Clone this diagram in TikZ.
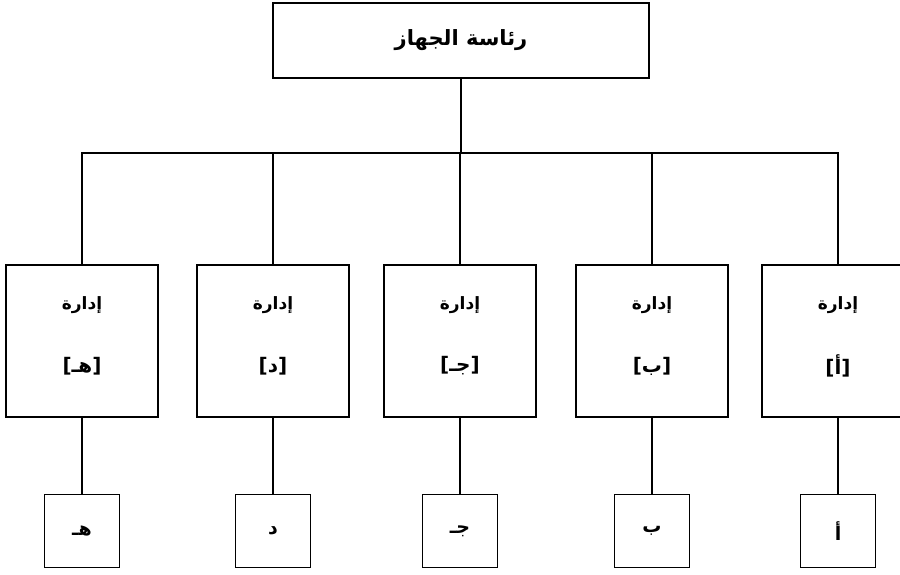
\documentclass[tikz,border=0pt]{standalone}
\usepackage{fontspec}
\newfontfamily\arabicfont[Script=Arabic]{DejaVu Sans}
\newfontfamily\brkfont{DejaVu Sans}
\TeXXeTstate=1
\newcommand{\ar}[1]{{\arabicfont\bfseries\beginR #1\endR}}
\begin{document}
\begin{tikzpicture}[x=1pt,y=-1pt,line width=1.8pt,
  topbox/.style={draw,minimum width=376pt,minimum height=75pt,inner sep=0pt},
  deptbox/.style={draw,minimum width=152pt,minimum height=152pt,inner sep=0pt},
  subbox/.style={draw,minimum width=75pt,minimum height=73pt,inner sep=0pt,font=\fontsize{19}{22}\selectfont},
  lbl/.style={inner sep=0pt,font=\fontsize{17}{20}\selectfont},
  brk/.style={inner sep=0pt,font=\brkfont\bfseries\fontsize{20}{24}\selectfont}]
\useasboundingbox (0,0) rectangle (900,574);
\clip (0,0) rectangle (900,574);
\fill[white] (0,0) rectangle (900,574);
\node[topbox,font=\fontsize{21}{24}\selectfont] (top) at (461,40.5) {\ar{رئاسة الجهاز}};
\coordinate (bar) at (463,153);
\foreach \i/\x/\l in {1/82/هـ, 2/273/د, 3/460/جـ, 4/652/ب, 5/838/أ}{
  \node[deptbox] (d\i) at (\x,341) {};
  \node[lbl] (t\i) at (\x,305) {\ar{إدارة}};
  \node[brk] (b\i) at (\x,366) {[\ar{\l}]};
  \node[subbox] (s\i) at (\x,531) {\ar{\l}};
  \draw (d\i.south) -- (s\i.north);
}
\draw (top.south) -- (top.south |- bar);
\draw (d1.north) |- (bar) -| (d5.north);
\foreach \i in {2,3,4}{\draw (d\i.north) -- (d\i.north |- bar);}
\end{tikzpicture}
\end{document}
